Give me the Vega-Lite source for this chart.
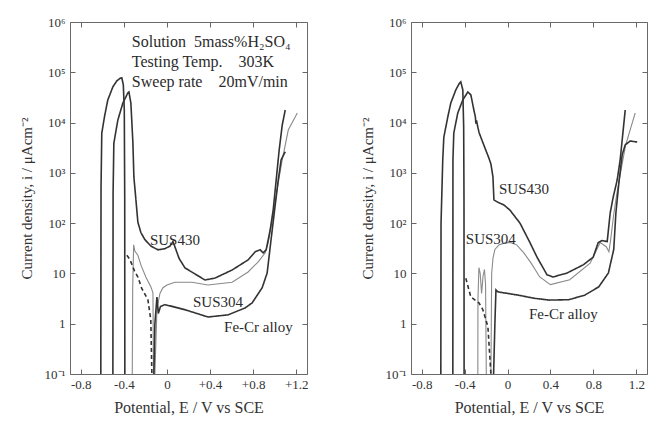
{
  "$schema": "https://vega.github.io/schema/vega-lite/v6.json",
  "background": "white",
  "padding": {"left": 18, "top": 15, "right": 10, "bottom": 5},
  "spacing": 50,
  "config": {
    "font": "Liberation Serif",
    "view": {"stroke": "#6a6a6a", "strokeWidth": 1},
    "axis": {
      "labelFont": "Liberation Serif", "titleFont": "Liberation Serif",
      "labelColor": "#333", "titleColor": "#333", "tickColor": "#666",
      "titleFontWeight": "normal", "grid": false, "domain": false,
      "labelFontSize": 13, "titleFontSize": 15, "labelFlush": false, "tickSize": -5
    },
    "text": {"font": "Liberation Serif", "color": "#2b2b2b"}
  },
  "datasets": {
    "curves": [
      {"panel":"L","material":"Fe-Cr alloy","branch":"anodic","seg":"L1","n":1,"E":-0.614,"i":0.1},
      {"panel":"L","material":"Fe-Cr alloy","branch":"anodic","seg":"L1","n":2,"E":-0.612,"i":500},
      {"panel":"L","material":"Fe-Cr alloy","branch":"anodic","seg":"L1","n":3,"E":-0.605,"i":6200},
      {"panel":"L","material":"Fe-Cr alloy","branch":"anodic","seg":"L1","n":4,"E":-0.577,"i":14100},
      {"panel":"L","material":"Fe-Cr alloy","branch":"anodic","seg":"L1","n":5,"E":-0.549,"i":28200},
      {"panel":"L","material":"Fe-Cr alloy","branch":"anodic","seg":"L1","n":6,"E":-0.502,"i":51300},
      {"panel":"L","material":"Fe-Cr alloy","branch":"anodic","seg":"L1","n":7,"E":-0.465,"i":67600},
      {"panel":"L","material":"Fe-Cr alloy","branch":"anodic","seg":"L1","n":8,"E":-0.435,"i":76000},
      {"panel":"L","material":"Fe-Cr alloy","branch":"anodic","seg":"L1","n":9,"E":-0.419,"i":77600},
      {"panel":"L","material":"Fe-Cr alloy","branch":"anodic","seg":"L1","n":10,"E":-0.405,"i":56000},
      {"panel":"L","material":"Fe-Cr alloy","branch":"anodic","seg":"L1","n":11,"E":-0.396,"i":17800},
      {"panel":"L","material":"Fe-Cr alloy","branch":"anodic","seg":"L1","n":12,"E":-0.392,"i":290},
      {"panel":"L","material":"Fe-Cr alloy","branch":"anodic","seg":"L1","n":13,"E":-0.391,"i":0.1},

      {"panel":"L","material":"Fe-Cr alloy","branch":"cathodic","seg":"L2","n":1,"E":-0.372,"i":23},
      {"panel":"L","material":"Fe-Cr alloy","branch":"cathodic","seg":"L2","n":2,"E":-0.344,"i":19},
      {"panel":"L","material":"Fe-Cr alloy","branch":"cathodic","seg":"L2","n":3,"E":-0.30,"i":11},
      {"panel":"L","material":"Fe-Cr alloy","branch":"cathodic","seg":"L2","n":4,"E":-0.27,"i":8.5},
      {"panel":"L","material":"Fe-Cr alloy","branch":"cathodic","seg":"L2","n":5,"E":-0.235,"i":5.1},
      {"panel":"L","material":"Fe-Cr alloy","branch":"cathodic","seg":"L2","n":6,"E":-0.177,"i":3.0},
      {"panel":"L","material":"Fe-Cr alloy","branch":"cathodic","seg":"L2","n":7,"E":-0.15,"i":1.2},
      {"panel":"L","material":"Fe-Cr alloy","branch":"cathodic","seg":"L2","n":8,"E":-0.14,"i":0.1},

      {"panel":"L","material":"Fe-Cr alloy","branch":"anodic","seg":"L3","n":1,"E":-0.121,"i":0.1},
      {"panel":"L","material":"Fe-Cr alloy","branch":"anodic","seg":"L3","n":2,"E":-0.112,"i":1.0},
      {"panel":"L","material":"Fe-Cr alloy","branch":"anodic","seg":"L3","n":3,"E":-0.093,"i":3.4},
      {"panel":"L","material":"Fe-Cr alloy","branch":"anodic","seg":"L3","n":4,"E":-0.08,"i":1.6},
      {"panel":"L","material":"Fe-Cr alloy","branch":"anodic","seg":"L3","n":5,"E":-0.06,"i":2.2},
      {"panel":"L","material":"Fe-Cr alloy","branch":"anodic","seg":"L3","n":6,"E":-0.019,"i":2.4},
      {"panel":"L","material":"Fe-Cr alloy","branch":"anodic","seg":"L3","n":7,"E":0.167,"i":1.9},
      {"panel":"L","material":"Fe-Cr alloy","branch":"anodic","seg":"L3","n":8,"E":0.381,"i":1.36},
      {"panel":"L","material":"Fe-Cr alloy","branch":"anodic","seg":"L3","n":9,"E":0.567,"i":1.5},
      {"panel":"L","material":"Fe-Cr alloy","branch":"anodic","seg":"L3","n":10,"E":0.726,"i":2.06},
      {"panel":"L","material":"Fe-Cr alloy","branch":"anodic","seg":"L3","n":11,"E":0.791,"i":2.6},
      {"panel":"L","material":"Fe-Cr alloy","branch":"anodic","seg":"L3","n":12,"E":0.884,"i":5.2},
      {"panel":"L","material":"Fe-Cr alloy","branch":"anodic","seg":"L3","n":13,"E":0.93,"i":10.2},
      {"panel":"L","material":"Fe-Cr alloy","branch":"anodic","seg":"L3","n":14,"E":0.977,"i":73},
      {"panel":"L","material":"Fe-Cr alloy","branch":"anodic","seg":"L3","n":15,"E":1.005,"i":230},
      {"panel":"L","material":"Fe-Cr alloy","branch":"anodic","seg":"L3","n":16,"E":1.033,"i":720},
      {"panel":"L","material":"Fe-Cr alloy","branch":"anodic","seg":"L3","n":17,"E":1.06,"i":1820},
      {"panel":"L","material":"Fe-Cr alloy","branch":"anodic","seg":"L3","n":18,"E":1.098,"i":2630},

      {"panel":"L","material":"SUS430","branch":"anodic","seg":"L4","n":1,"E":-0.502,"i":0.1},
      {"panel":"L","material":"SUS430","branch":"anodic","seg":"L4","n":2,"E":-0.500,"i":400},
      {"panel":"L","material":"SUS430","branch":"anodic","seg":"L4","n":3,"E":-0.493,"i":3900},
      {"panel":"L","material":"SUS430","branch":"anodic","seg":"L4","n":4,"E":-0.456,"i":11200},
      {"panel":"L","material":"SUS430","branch":"anodic","seg":"L4","n":5,"E":-0.409,"i":24500},
      {"panel":"L","material":"SUS430","branch":"anodic","seg":"L4","n":6,"E":-0.363,"i":38900},
      {"panel":"L","material":"SUS430","branch":"anodic","seg":"L4","n":7,"E":-0.353,"i":40600},
      {"panel":"L","material":"SUS430","branch":"anodic","seg":"L4","n":8,"E":-0.335,"i":24500},
      {"panel":"L","material":"SUS430","branch":"anodic","seg":"L4","n":9,"E":-0.316,"i":3900},
      {"panel":"L","material":"SUS430","branch":"anodic","seg":"L4","n":10,"E":-0.307,"i":830},
      {"panel":"L","material":"SUS430","branch":"anodic","seg":"L4","n":11,"E":-0.288,"i":290},
      {"panel":"L","material":"SUS430","branch":"anodic","seg":"L4","n":12,"E":-0.270,"i":105},
      {"panel":"L","material":"SUS430","branch":"anodic","seg":"L4","n":13,"E":-0.242,"i":65},
      {"panel":"L","material":"SUS430","branch":"anodic","seg":"L4","n":14,"E":-0.205,"i":47},
      {"panel":"L","material":"SUS430","branch":"anodic","seg":"L4","n":15,"E":-0.149,"i":35},
      {"panel":"L","material":"SUS430","branch":"anodic","seg":"L4","n":16,"E":-0.084,"i":29.5},
      {"panel":"L","material":"SUS430","branch":"anodic","seg":"L4","n":17,"E":-0.019,"i":31},
      {"panel":"L","material":"SUS430","branch":"anodic","seg":"L4","n":18,"E":0.028,"i":35},
      {"panel":"L","material":"SUS430","branch":"anodic","seg":"L4","n":19,"E":0.056,"i":43},
      {"panel":"L","material":"SUS430","branch":"anodic","seg":"L4","n":20,"E":0.084,"i":29.5},
      {"panel":"L","material":"SUS430","branch":"anodic","seg":"L4","n":21,"E":0.112,"i":20},
      {"panel":"L","material":"SUS430","branch":"anodic","seg":"L4","n":22,"E":0.167,"i":12.9},
      {"panel":"L","material":"SUS430","branch":"anodic","seg":"L4","n":23,"E":0.353,"i":7.4},
      {"panel":"L","material":"SUS430","branch":"anodic","seg":"L4","n":24,"E":0.447,"i":8.1},
      {"panel":"L","material":"SUS430","branch":"anodic","seg":"L4","n":25,"E":0.605,"i":11.7},
      {"panel":"L","material":"SUS430","branch":"anodic","seg":"L4","n":26,"E":0.753,"i":18.6},
      {"panel":"L","material":"SUS430","branch":"anodic","seg":"L4","n":27,"E":0.819,"i":27},
      {"panel":"L","material":"SUS430","branch":"anodic","seg":"L4","n":28,"E":0.865,"i":29.5},
      {"panel":"L","material":"SUS430","branch":"anodic","seg":"L4","n":29,"E":0.893,"i":25.6},
      {"panel":"L","material":"SUS430","branch":"anodic","seg":"L4","n":30,"E":0.921,"i":29.5},
      {"panel":"L","material":"SUS430","branch":"anodic","seg":"L4","n":31,"E":0.958,"i":73},
      {"panel":"L","material":"SUS430","branch":"anodic","seg":"L4","n":32,"E":0.986,"i":182},
      {"panel":"L","material":"SUS430","branch":"anodic","seg":"L4","n":33,"E":1.014,"i":720},
      {"panel":"L","material":"SUS430","branch":"anodic","seg":"L4","n":34,"E":1.042,"i":2880},
      {"panel":"L","material":"SUS430","branch":"anodic","seg":"L4","n":35,"E":1.070,"i":8900},
      {"panel":"L","material":"SUS430","branch":"anodic","seg":"L4","n":36,"E":1.098,"i":17800},

      {"panel":"L","material":"SUS304","branch":"anodic","seg":"L5","n":1,"E":-0.322,"i":0.1},
      {"panel":"L","material":"SUS304","branch":"anodic","seg":"L5","n":2,"E":-0.318,"i":5},
      {"panel":"L","material":"SUS304","branch":"anodic","seg":"L5","n":3,"E":-0.309,"i":37},
      {"panel":"L","material":"SUS304","branch":"anodic","seg":"L5","n":4,"E":-0.298,"i":28},
      {"panel":"L","material":"SUS304","branch":"anodic","seg":"L5","n":5,"E":-0.270,"i":23},
      {"panel":"L","material":"SUS304","branch":"anodic","seg":"L5","n":6,"E":-0.242,"i":14.8},
      {"panel":"L","material":"SUS304","branch":"anodic","seg":"L5","n":7,"E":-0.196,"i":8.5},
      {"panel":"L","material":"SUS304","branch":"anodic","seg":"L5","n":8,"E":-0.149,"i":5.4},
      {"panel":"L","material":"SUS304","branch":"anodic","seg":"L5","n":9,"E":-0.130,"i":4.1},
      {"panel":"L","material":"SUS304","branch":"anodic","seg":"L5","n":10,"E":-0.125,"i":0.1},

      {"panel":"L","material":"SUS304","branch":"anodic","seg":"L6","n":1,"E":-0.112,"i":0.1},
      {"panel":"L","material":"SUS304","branch":"anodic","seg":"L6","n":2,"E":-0.093,"i":2},
      {"panel":"L","material":"SUS304","branch":"anodic","seg":"L6","n":3,"E":-0.065,"i":4},
      {"panel":"L","material":"SUS304","branch":"anodic","seg":"L6","n":4,"E":-0.037,"i":5.2},
      {"panel":"L","material":"SUS304","branch":"anodic","seg":"L6","n":5,"E":0.0,"i":5.9},
      {"panel":"L","material":"SUS304","branch":"anodic","seg":"L6","n":6,"E":0.074,"i":6.7},
      {"panel":"L","material":"SUS304","branch":"anodic","seg":"L6","n":7,"E":0.232,"i":6.7},
      {"panel":"L","material":"SUS304","branch":"anodic","seg":"L6","n":8,"E":0.381,"i":5.9},
      {"panel":"L","material":"SUS304","branch":"anodic","seg":"L6","n":9,"E":0.605,"i":6.7},
      {"panel":"L","material":"SUS304","branch":"anodic","seg":"L6","n":10,"E":0.753,"i":10.7},
      {"panel":"L","material":"SUS304","branch":"anodic","seg":"L6","n":11,"E":0.847,"i":17},
      {"panel":"L","material":"SUS304","branch":"anodic","seg":"L6","n":12,"E":0.912,"i":25.7},
      {"panel":"L","material":"SUS304","branch":"anodic","seg":"L6","n":13,"E":0.94,"i":41},
      {"panel":"L","material":"SUS304","branch":"anodic","seg":"L6","n":14,"E":0.97,"i":92},
      {"panel":"L","material":"SUS304","branch":"anodic","seg":"L6","n":15,"E":1.0,"i":230},
      {"panel":"L","material":"SUS304","branch":"anodic","seg":"L6","n":16,"E":1.03,"i":580},
      {"panel":"L","material":"SUS304","branch":"anodic","seg":"L6","n":17,"E":1.07,"i":1800},
      {"panel":"L","material":"SUS304","branch":"anodic","seg":"L6","n":18,"E":1.126,"i":7100},
      {"panel":"L","material":"SUS304","branch":"anodic","seg":"L6","n":19,"E":1.21,"i":15500},

      {"panel":"R","material":"Fe-Cr alloy","branch":"anodic","seg":"R1","n":1,"E":-0.622,"i":0.1},
      {"panel":"R","material":"Fe-Cr alloy","branch":"anodic","seg":"R1","n":2,"E":-0.620,"i":100},
      {"panel":"R","material":"Fe-Cr alloy","branch":"anodic","seg":"R1","n":3,"E":-0.604,"i":1820},
      {"panel":"R","material":"Fe-Cr alloy","branch":"anodic","seg":"R1","n":4,"E":-0.594,"i":5100},
      {"panel":"R","material":"Fe-Cr alloy","branch":"anodic","seg":"R1","n":5,"E":-0.557,"i":12900},
      {"panel":"R","material":"Fe-Cr alloy","branch":"anodic","seg":"R1","n":6,"E":-0.529,"i":24500},
      {"panel":"R","material":"Fe-Cr alloy","branch":"anodic","seg":"R1","n":7,"E":-0.482,"i":44700},
      {"panel":"R","material":"Fe-Cr alloy","branch":"anodic","seg":"R1","n":8,"E":-0.45,"i":60000},
      {"panel":"R","material":"Fe-Cr alloy","branch":"anodic","seg":"R1","n":9,"E":-0.436,"i":64600},
      {"panel":"R","material":"Fe-Cr alloy","branch":"anodic","seg":"R1","n":10,"E":-0.417,"i":44700},
      {"panel":"R","material":"Fe-Cr alloy","branch":"anodic","seg":"R1","n":11,"E":-0.409,"i":8100},
      {"panel":"R","material":"Fe-Cr alloy","branch":"anodic","seg":"R1","n":12,"E":-0.406,"i":300},
      {"panel":"R","material":"Fe-Cr alloy","branch":"anodic","seg":"R1","n":13,"E":-0.405,"i":0.1},

      {"panel":"R","material":"Fe-Cr alloy","branch":"cathodic","seg":"R2","n":1,"E":-0.389,"i":8},
      {"panel":"R","material":"Fe-Cr alloy","branch":"cathodic","seg":"R2","n":2,"E":-0.342,"i":3.4},
      {"panel":"R","material":"Fe-Cr alloy","branch":"cathodic","seg":"R2","n":3,"E":-0.267,"i":2.6},
      {"panel":"R","material":"Fe-Cr alloy","branch":"cathodic","seg":"R2","n":4,"E":-0.23,"i":1.9},
      {"panel":"R","material":"Fe-Cr alloy","branch":"cathodic","seg":"R2","n":5,"E":-0.183,"i":0.87},
      {"panel":"R","material":"Fe-Cr alloy","branch":"cathodic","seg":"R2","n":6,"E":-0.155,"i":0.1},

      {"panel":"R","material":"Fe-Cr alloy","branch":"anodic","seg":"R3","n":1,"E":-0.13,"i":0.1},
      {"panel":"R","material":"Fe-Cr alloy","branch":"anodic","seg":"R3","n":2,"E":-0.118,"i":1.0},
      {"panel":"R","material":"Fe-Cr alloy","branch":"anodic","seg":"R3","n":3,"E":-0.108,"i":4.7},
      {"panel":"R","material":"Fe-Cr alloy","branch":"anodic","seg":"R3","n":4,"E":-0.09,"i":4.3},
      {"panel":"R","material":"Fe-Cr alloy","branch":"anodic","seg":"R3","n":5,"E":0.1,"i":3.7},
      {"panel":"R","material":"Fe-Cr alloy","branch":"anodic","seg":"R3","n":6,"E":0.25,"i":3.2},
      {"panel":"R","material":"Fe-Cr alloy","branch":"anodic","seg":"R3","n":7,"E":0.39,"i":2.95},
      {"panel":"R","material":"Fe-Cr alloy","branch":"anodic","seg":"R3","n":8,"E":0.57,"i":3.0},
      {"panel":"R","material":"Fe-Cr alloy","branch":"anodic","seg":"R3","n":9,"E":0.72,"i":3.7},
      {"panel":"R","material":"Fe-Cr alloy","branch":"anodic","seg":"R3","n":10,"E":0.85,"i":5.4},
      {"panel":"R","material":"Fe-Cr alloy","branch":"anodic","seg":"R3","n":11,"E":0.94,"i":10.2},
      {"panel":"R","material":"Fe-Cr alloy","branch":"anodic","seg":"R3","n":12,"E":0.99,"i":30},
      {"panel":"R","material":"Fe-Cr alloy","branch":"anodic","seg":"R3","n":13,"E":1.01,"i":160},
      {"panel":"R","material":"Fe-Cr alloy","branch":"anodic","seg":"R3","n":14,"E":1.04,"i":700},
      {"panel":"R","material":"Fe-Cr alloy","branch":"anodic","seg":"R3","n":15,"E":1.069,"i":2300},
      {"panel":"R","material":"Fe-Cr alloy","branch":"anodic","seg":"R3","n":16,"E":1.097,"i":3600},
      {"panel":"R","material":"Fe-Cr alloy","branch":"anodic","seg":"R3","n":17,"E":1.143,"i":4300},
      {"panel":"R","material":"Fe-Cr alloy","branch":"anodic","seg":"R3","n":18,"E":1.209,"i":4100},

      {"panel":"R","material":"SUS430","branch":"anodic","seg":"R4","n":1,"E":-0.510,"i":0.1},
      {"panel":"R","material":"SUS430","branch":"anodic","seg":"R4","n":2,"E":-0.509,"i":1820},
      {"panel":"R","material":"SUS430","branch":"anodic","seg":"R4","n":3,"E":-0.501,"i":6200},
      {"panel":"R","material":"SUS430","branch":"anodic","seg":"R4","n":4,"E":-0.464,"i":15500},
      {"panel":"R","material":"SUS430","branch":"anodic","seg":"R4","n":5,"E":-0.417,"i":28200},
      {"panel":"R","material":"SUS430","branch":"anodic","seg":"R4","n":6,"E":-0.370,"i":40700},
      {"panel":"R","material":"SUS430","branch":"anodic","seg":"R4","n":7,"E":-0.342,"i":35500},
      {"panel":"R","material":"SUS430","branch":"anodic","seg":"R4","n":8,"E":-0.314,"i":17800},
      {"panel":"R","material":"SUS430","branch":"anodic","seg":"R4","n":9,"E":-0.300,"i":13000},
      {"panel":"R","material":"SUS430","branch":"anodic","seg":"R4","n":10,"E":-0.295,"i":9500},
      {"panel":"R","material":"SUS430","branch":"anodic","seg":"R4","n":11,"E":-0.289,"i":11000},
      {"panel":"R","material":"SUS430","branch":"anodic","seg":"R4","n":12,"E":-0.277,"i":8100},
      {"panel":"R","material":"SUS430","branch":"anodic","seg":"R4","n":13,"E":-0.265,"i":6300},
      {"panel":"R","material":"SUS430","branch":"anodic","seg":"R4","n":14,"E":-0.249,"i":5100},
      {"panel":"R","material":"SUS430","branch":"anodic","seg":"R4","n":15,"E":-0.202,"i":2800},
      {"panel":"R","material":"SUS430","branch":"anodic","seg":"R4","n":16,"E":-0.175,"i":2000},
      {"panel":"R","material":"SUS430","branch":"anodic","seg":"R4","n":17,"E":-0.155,"i":1500},
      {"panel":"R","material":"SUS430","branch":"anodic","seg":"R4","n":18,"E":-0.136,"i":830},
      {"panel":"R","material":"SUS430","branch":"anodic","seg":"R4","n":19,"E":-0.127,"i":290},
      {"panel":"R","material":"SUS430","branch":"anodic","seg":"R4","n":20,"E":-0.09,"i":260},
      {"panel":"R","material":"SUS430","branch":"anodic","seg":"R4","n":21,"E":-0.034,"i":230},
      {"panel":"R","material":"SUS430","branch":"anodic","seg":"R4","n":22,"E":0.022,"i":182},
      {"panel":"R","material":"SUS430","branch":"anodic","seg":"R4","n":23,"E":0.116,"i":100},
      {"panel":"R","material":"SUS430","branch":"anodic","seg":"R4","n":24,"E":0.209,"i":41},
      {"panel":"R","material":"SUS430","branch":"anodic","seg":"R4","n":25,"E":0.275,"i":21},
      {"panel":"R","material":"SUS430","branch":"anodic","seg":"R4","n":26,"E":0.368,"i":9.4},
      {"panel":"R","material":"SUS430","branch":"anodic","seg":"R4","n":27,"E":0.424,"i":8.5},
      {"panel":"R","material":"SUS430","branch":"anodic","seg":"R4","n":28,"E":0.555,"i":10.2},
      {"panel":"R","material":"SUS430","branch":"anodic","seg":"R4","n":29,"E":0.705,"i":14.8},
      {"panel":"R","material":"SUS430","branch":"anodic","seg":"R4","n":30,"E":0.798,"i":21},
      {"panel":"R","material":"SUS430","branch":"anodic","seg":"R4","n":31,"E":0.845,"i":41},
      {"panel":"R","material":"SUS430","branch":"anodic","seg":"R4","n":32,"E":0.88,"i":45},
      {"panel":"R","material":"SUS430","branch":"anodic","seg":"R4","n":33,"E":0.929,"i":43},
      {"panel":"R","material":"SUS430","branch":"anodic","seg":"R4","n":34,"E":0.957,"i":160},
      {"panel":"R","material":"SUS430","branch":"anodic","seg":"R4","n":35,"E":0.985,"i":330},
      {"panel":"R","material":"SUS430","branch":"anodic","seg":"R4","n":36,"E":1.022,"i":720},
      {"panel":"R","material":"SUS430","branch":"anodic","seg":"R4","n":37,"E":1.050,"i":1820},
      {"panel":"R","material":"SUS430","branch":"anodic","seg":"R4","n":38,"E":1.078,"i":7100},
      {"panel":"R","material":"SUS430","branch":"anodic","seg":"R4","n":39,"E":1.097,"i":17800},

      {"panel":"R","material":"SUS304","branch":"anodic","seg":"R5","n":1,"E":-0.277,"i":0.1},
      {"panel":"R","material":"SUS304","branch":"anodic","seg":"R5","n":2,"E":-0.276,"i":3},
      {"panel":"R","material":"SUS304","branch":"anodic","seg":"R5","n":3,"E":-0.267,"i":13},
      {"panel":"R","material":"SUS304","branch":"anodic","seg":"R5","n":4,"E":-0.255,"i":10},
      {"panel":"R","material":"SUS304","branch":"anodic","seg":"R5","n":5,"E":-0.242,"i":4},
      {"panel":"R","material":"SUS304","branch":"anodic","seg":"R5","n":6,"E":-0.228,"i":9},
      {"panel":"R","material":"SUS304","branch":"anodic","seg":"R5","n":7,"E":-0.215,"i":12},
      {"panel":"R","material":"SUS304","branch":"anodic","seg":"R5","n":8,"E":-0.205,"i":6},
      {"panel":"R","material":"SUS304","branch":"anodic","seg":"R5","n":9,"E":-0.198,"i":0.1},

      {"panel":"R","material":"SUS304","branch":"anodic","seg":"R6","n":1,"E":-0.155,"i":0.1},
      {"panel":"R","material":"SUS304","branch":"anodic","seg":"R6","n":2,"E":-0.148,"i":10},
      {"panel":"R","material":"SUS304","branch":"anodic","seg":"R6","n":3,"E":-0.136,"i":20},
      {"panel":"R","material":"SUS304","branch":"anodic","seg":"R6","n":4,"E":-0.118,"i":30},
      {"panel":"R","material":"SUS304","branch":"anodic","seg":"R6","n":5,"E":-0.08,"i":37},
      {"panel":"R","material":"SUS304","branch":"anodic","seg":"R6","n":6,"E":-0.02,"i":41},
      {"panel":"R","material":"SUS304","branch":"anodic","seg":"R6","n":7,"E":0.03,"i":41},
      {"panel":"R","material":"SUS304","branch":"anodic","seg":"R6","n":8,"E":0.085,"i":37},
      {"panel":"R","material":"SUS304","branch":"anodic","seg":"R6","n":9,"E":0.15,"i":26},
      {"panel":"R","material":"SUS304","branch":"anodic","seg":"R6","n":10,"E":0.22,"i":16},
      {"panel":"R","material":"SUS304","branch":"anodic","seg":"R6","n":11,"E":0.30,"i":8.5},
      {"panel":"R","material":"SUS304","branch":"anodic","seg":"R6","n":12,"E":0.40,"i":6},
      {"panel":"R","material":"SUS304","branch":"anodic","seg":"R6","n":13,"E":0.58,"i":7.5},
      {"panel":"R","material":"SUS304","branch":"anodic","seg":"R6","n":14,"E":0.77,"i":16},
      {"panel":"R","material":"SUS304","branch":"anodic","seg":"R6","n":15,"E":0.864,"i":41},
      {"panel":"R","material":"SUS304","branch":"anodic","seg":"R6","n":16,"E":0.92,"i":34},
      {"panel":"R","material":"SUS304","branch":"anodic","seg":"R6","n":17,"E":0.945,"i":27},
      {"panel":"R","material":"SUS304","branch":"anodic","seg":"R6","n":18,"E":0.96,"i":45},
      {"panel":"R","material":"SUS304","branch":"anodic","seg":"R6","n":19,"E":0.99,"i":150},
      {"panel":"R","material":"SUS304","branch":"anodic","seg":"R6","n":20,"E":1.02,"i":400},
      {"panel":"R","material":"SUS304","branch":"anodic","seg":"R6","n":21,"E":1.06,"i":1200},
      {"panel":"R","material":"SUS304","branch":"anodic","seg":"R6","n":22,"E":1.10,"i":3500},
      {"panel":"R","material":"SUS304","branch":"anodic","seg":"R6","n":23,"E":1.15,"i":8000},
      {"panel":"R","material":"SUS304","branch":"anodic","seg":"R6","n":24,"E":1.19,"i":15500}
    ],
    "labels": [
      {"panel":"L","kind":"note","label":"Solution\u00a0\u00a05mass%H₂SO₄","E":-0.326,"i":398000},
      {"panel":"L","kind":"note","label":"Testing Temp.\u00a0\u00a0\u00a0\u00a0303K","E":-0.326,"i":158000},
      {"panel":"L","kind":"note","label":"Sweep rate\u00a0\u00a0\u00a0\u00a020mV/min","E":-0.326,"i":64600},
      {"panel":"L","kind":"curve","label":"SUS430","E":-0.158,"i":47},
      {"panel":"L","kind":"curve","label":"SUS304","E":0.242,"i":2.7},
      {"panel":"L","kind":"curve","label":"Fe-Cr alloy","E":0.53,"i":0.87},
      {"panel":"R","kind":"curve","label":"SUS430","E":-0.08,"i":480},
      {"panel":"R","kind":"curve","label":"SUS304","E":-0.389,"i":49},
      {"panel":"R","kind":"curve","label":"Fe-Cr alloy","E":0.20,"i":1.55}
    ]
  },
  "hconcat": [
    {
      "width": 237, "height": 352,
      "resolve": {"axis": {"x": "independent", "y": "independent"}},
      "layer": [
        {
          "data": {"name": "curves"},
          "transform": [{"filter": "datum.panel === 'L' && datum.material === 'SUS304'"}],
          "mark": {"type": "line", "clip": true, "color": "#8a8a8a", "strokeWidth": 1.1},
          "encoding": {
            "x": {"field": "E", "type": "quantitative", "scale": {"domain": [-0.9, 1.3], "nice": false, "zero": false},
                  "axis": {"orient": "top", "values": [-0.8, -0.4, 0, 0.4, 0.8, 1.2], "labels": false, "title": null}},
            "y": {"field": "i", "type": "quantitative", "scale": {"type": "log", "domain": [0.1, 1000000], "nice": false},
                  "axis": {"orient": "right", "values": [0.1, 1, 10, 100, 1000, 10000, 100000, 1000000], "labels": false, "title": null}},
            "detail": {"field": "seg"},
            "order": {"field": "n"}
          }
        },
        {
          "data": {"name": "curves"},
          "transform": [{"filter": "datum.panel === 'L' && datum.material !== 'SUS304'"}],
          "mark": {"type": "line", "clip": true, "color": "#333333", "strokeWidth": 1.6},
          "encoding": {
            "x": {"field": "E", "type": "quantitative",
                  "axis": {"orient": "bottom", "values": [-0.8, -0.4, 0, 0.4, 0.8, 1.2],
                           "labelExpr": "datum.value > 0.01 ? '+' + format(datum.value, '.1f') : abs(datum.value) < 0.01 ? '0' : '-' + format(-datum.value, '.1f')",
                           "title": "Potential, E / V vs SCE", "titleFontSize": 16, "labelPadding": 9, "titlePadding": 8}},
            "y": {"field": "i", "type": "quantitative",
                  "axis": {"orient": "left", "values": [0.1, 1, 10, 100, 1000, 10000, 100000, 1000000],
                           "labelExpr": "datum.value >= 999999 ? '10⁶' : datum.value >= 99999 ? '10⁵' : datum.value >= 9999 ? '10⁴' : datum.value >= 999 ? '10³' : datum.value >= 99 ? '10²' : datum.value >= 9.9 ? '10' : datum.value >= 0.99 ? '1' : '10⁻¹'",
                           "title": "Current density, i / μAcm⁻²", "labelPadding": 10, "titlePadding": 10}},
            "detail": {"field": "seg"},
            "order": {"field": "n"},
            "strokeDash": {"field": "branch", "type": "nominal", "scale": {"domain": ["anodic", "cathodic"], "range": [[1, 0], [4, 3]]}, "legend": null}
          }
        },
        {
          "data": {"name": "labels"},
          "transform": [{"filter": "datum.panel === 'L' && datum.kind === 'note'"}],
          "mark": {"type": "text", "align": "left", "baseline": "middle", "fontSize": 16},
          "encoding": {
            "x": {"field": "E", "type": "quantitative", "axis": null},
            "y": {"field": "i", "type": "quantitative", "axis": null},
            "text": {"field": "label"}
          }
        },
        {
          "data": {"name": "labels"},
          "transform": [{"filter": "datum.panel === 'L' && datum.kind === 'curve'"}],
          "mark": {"type": "text", "align": "left", "baseline": "middle", "fontSize": 15},
          "encoding": {
            "x": {"field": "E", "type": "quantitative", "axis": null},
            "y": {"field": "i", "type": "quantitative", "axis": null},
            "text": {"field": "label"}
          }
        }
      ]
    },
    {
      "width": 236, "height": 352,
      "resolve": {"axis": {"x": "independent", "y": "independent"}},
      "layer": [
        {
          "data": {"name": "curves"},
          "transform": [{"filter": "datum.panel === 'R' && datum.material === 'SUS304'"}],
          "mark": {"type": "line", "clip": true, "color": "#8a8a8a", "strokeWidth": 1.1},
          "encoding": {
            "x": {"field": "E", "type": "quantitative", "scale": {"domain": [-0.9, 1.3], "nice": false, "zero": false},
                  "axis": {"orient": "top", "values": [-0.8, -0.4, 0, 0.4, 0.8, 1.2], "labels": false, "title": null}},
            "y": {"field": "i", "type": "quantitative", "scale": {"type": "log", "domain": [0.1, 1000000], "nice": false},
                  "axis": {"orient": "right", "values": [0.1, 1, 10, 100, 1000, 10000, 100000, 1000000], "labels": false, "title": null}},
            "detail": {"field": "seg"},
            "order": {"field": "n"}
          }
        },
        {
          "data": {"name": "curves"},
          "transform": [{"filter": "datum.panel === 'R' && datum.material !== 'SUS304'"}],
          "mark": {"type": "line", "clip": true, "color": "#333333", "strokeWidth": 1.6},
          "encoding": {
            "x": {"field": "E", "type": "quantitative",
                  "axis": {"orient": "bottom", "values": [-0.8, -0.4, 0, 0.4, 0.8, 1.2],
                           "labelExpr": "abs(datum.value) < 0.01 ? '0' : datum.value < 0 ? '-' + format(-datum.value, '.1f') : format(datum.value, '.1f')",
                           "title": "Potential, E / V vs SCE", "titleFontSize": 16, "labelPadding": 9, "titlePadding": 8}},
            "y": {"field": "i", "type": "quantitative",
                  "axis": {"orient": "left", "values": [0.1, 1, 10, 100, 1000, 10000, 100000, 1000000],
                           "labelExpr": "datum.value >= 999999 ? '10⁶' : datum.value >= 99999 ? '10⁵' : datum.value >= 9999 ? '10⁴' : datum.value >= 999 ? '10³' : datum.value >= 99 ? '10²' : datum.value >= 9.9 ? '10' : datum.value >= 0.99 ? '1' : '10⁻¹'",
                           "title": "Current density, i / μAcm⁻²", "labelPadding": 10, "titlePadding": 10}},
            "detail": {"field": "seg"},
            "order": {"field": "n"},
            "strokeDash": {"field": "branch", "type": "nominal", "scale": {"domain": ["anodic", "cathodic"], "range": [[1, 0], [4, 3]]}, "legend": null}
          }
        },
        {
          "data": {"name": "labels"},
          "transform": [{"filter": "datum.panel === 'R'"}],
          "mark": {"type": "text", "align": "left", "baseline": "middle", "fontSize": 15},
          "encoding": {
            "x": {"field": "E", "type": "quantitative", "axis": null},
            "y": {"field": "i", "type": "quantitative", "axis": null},
            "text": {"field": "label"}
          }
        }
      ]
    }
  ]
}
